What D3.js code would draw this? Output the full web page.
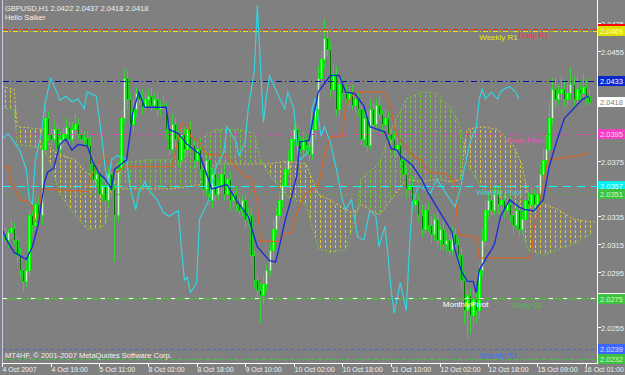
<!DOCTYPE html>
<html>
<head>
<meta charset="utf-8">
<script src="https://cdn.jsdelivr.net/npm/d3@7"></script>
<style>
body { margin: 0; background: #808080; }
svg { display: block; font-family: "Liberation Sans", Arial, sans-serif; }
</style>
</head>
<body>
<svg id="chart" width="625" height="375"></svg>
<script>
// GBPUSD H1, all price series below are in pips above 2.0200
const base = 2.02;
const firstOpen = 125;

const closes = [
  122,118,124,127,118,107,96,88,96,136,
  129,144,136,184,206,195,191,198,184,191,
  195,200,191,198,202,195,191,192,187,173,
  162,166,151,158,147,166,155,136,169,206,
  235,220,202,213,224,220,214,220,222,216,
  220,213,216,214,198,184,202,191,176,195,
  184,198,187,176,184,169,155,176,147,166,
  151,158,166,151,162,147,151,144,140,147,
  133,136,107,89,82,78,86,96,111,126,
  136,147,158,169,176,191,198,187,184,191,
  187,180,198,213,235,249,264,256,227,238,
  213,231,224,220,224,216,220,213,191,206,
  187,213,202,216,209,202,206,195,191,184,
  187,176,166,155,158,144,147,136,126,140,
  129,122,133,118,126,115,118,111,122,115,
  107,89,67,78,64,75,67,96,118,140,
  147,140,151,144,147,140,144,136,129,140,
  126,133,147,144,151,144,151,166,176,184,
  206,227,220,224,227,220,224,231,220,227,
  224,229,222,218
];
const hiWick = [
  3,5,2,6,4,3,5,2,7,4, 3,6,5,4,9,5,3,6,4,5, 4,6,3,5,7,4,3,5,4,6,
  5,3,7,4,6,5,8,4,6,5, 7,5,4,6,5,3,7,4,5,6, 4,5,3,6,4,5,7,4,6,5,
  5,4,6,3,5,7,4,6,5,4, 6,4,5,7,3,5,4,6,5,3, 4,6,5,3,4,5,6,4,5,7,
  5,6,4,5,7,6,5,4,6,5, 4,6,8,7,9,6,14,8,5,7, 6,5,4,7,5,6,4,5,7,6,
  5,6,4,5,7,3,6,5,4,6, 5,4,6,5,3,6,4,5,7,4, 5,6,4,5,3,6,5,4,6,5,
  4,5,6,4,5,7,6,5,8,6, 5,4,6,5,7,4,5,6,4,5, 6,5,4,6,5,4,7,6,8,10,
  12,8,9,6,10,7,8,12,6,9, 7,10,6,5
];
const loWick = [
  4,3,6,5,4,6,5,8,4,5, 6,4,5,7,4,6,5,3,6,4, 5,4,6,3,5,4,6,5,4,7,
  4,6,5,4,7,5,6,34,5,4, 5,7,4,5,6,4,5,3,6,5, 4,6,5,3,7,5,4,6,5,4,
  6,5,4,7,5,4,6,5,4,6, 5,4,6,5,4,7,5,6,4,5, 6,5,7,6,5,20,6,5,4,6,
  5,4,6,5,4,6,5,7,4,5, 6,5,4,6,5,4,7,5,6,4, 5,6,4,5,7,4,6,5,4,6,
  5,4,6,5,4,7,5,6,4,5, 6,5,4,7,5,6,4,5,6,4, 5,6,4,5,7,4,6,5,4,6,
  5,7,10,21,14,8,9,6,5,4, 6,5,4,7,5,6,4,5,7,4, 5,4,6,5,4,6,5,4,6,5,
  4,5,6,4,5,6,4,5,6,4, 5,4,6,3
];

// indicator lines as [bar, pips]
const tenkan = [[0,126],[2,116],[4,109],[8,104],[10,113],[12,130],[14,160],[15,167],[17,170],[19,187],[21,191],[23,183],[25,187],[28,186],[30,174],[32,166],[34,162],[36,155],[37,169],[41,176],[43,210],[45,225],[47,214],[50,214],[54,214],[55,198],[58,195],[61,187],[65,180],[69,155],[74,158],[77,147],[81,135],[84,113],[88,103],[90,102],[91,111],[93,131],[95,147],[97,165],[98,189],[101,190],[104,225],[108,237],[111,237],[113,225],[116,224],[119,215],[121,200],[126,196],[128,184],[130,183],[131,179],[135,172],[138,162],[140,153],[143,142],[146,131],[148,124],[149,111],[151,96],[153,88],[155,88],[156,80],[157,96],[159,104],[161,111],[162,115],[164,135],[167,147],[170,142],[172,140],[175,139],[178,147],[180,171],[182,186],[183,193],[185,206],[191,220],[193,222]];
const kijun = [[0,171],[2,171],[3,160],[6,147],[9,146],[10,142],[11,131],[12,131],[13,155],[28,153],[29,162],[30,167],[32,174],[34,180],[36,169],[38,167],[40,171],[56,171],[59,202],[61,202],[62,193],[65,189],[67,180],[74,179],[77,171],[80,164],[82,163],[84,145],[85,117],[91,117],[93,123],[95,123],[97,138],[100,152],[104,157],[106,179],[108,193],[112,193],[113,215],[116,225],[126,225],[128,213],[129,200],[130,193],[135,179],[138,176],[140,167],[146,166],[148,162],[149,160],[150,122],[156,120],[157,105],[174,105],[175,126],[177,147],[179,170],[180,176],[190,179],[193,181]];
const chikou = [[0,191],[2,195],[4,189],[6,182],[8,169],[9,147],[10,144],[11,176],[13,196],[14,215],[16,235],[18,225],[19,219],[21,222],[23,218],[25,220],[27,213],[28,225],[31,222],[32,206],[33,189],[34,169],[35,160],[36,176],[38,179],[41,176],[42,157],[44,140],[45,152],[47,160],[49,152],[51,147],[53,138],[55,135],[57,138],[58,139],[59,113],[60,89],[61,91],[62,80],[64,87],[65,133],[68,147],[70,169],[73,182],[74,200],[77,189],[78,179],[80,189],[81,213],[83,240],[84,288],[86,203],[87,222],[88,237],[91,222],[93,213],[94,225],[96,213],[97,189],[98,176],[101,182],[102,213],[103,220],[105,193],[106,200],[108,189],[110,169],[112,147],[113,140],[115,147],[117,120],[119,118],[121,139],[123,135],[124,113],[126,128],[127,106],[128,82],[129,65],[131,87],[133,67],[134,111],[135,145],[137,157],[139,155],[141,152],[143,162],[146,152],[149,142],[151,157],[152,169],[154,189],[156,200],[157,220],[158,227],[159,220],[161,225],[163,220],[164,225],[165,227],[167,229],[169,225],[170,220]];

// kumo (senkou span A / B)
const kumoBar = [0,4,5,14,16,19,24,28,32,34,36,37, 38,48,56,65,70,78,83,85,86, 87,94,100,104,108,113,115,117, 118,124,128,133,138,143,148,151,152, 153,158,163,168,171,173,178,183,188,195];
const spanA   = [213,213,187,184,173,151,136,126,126,129,158,160, 173,176,176,191,198,198,195,176,173, 168,149,144,112,109,111,125,140, 162,173,198,220,225,224,213,198,185, 173,155,147,140,126,111,107,111,115,124];
const spanB   = [229,227,200,198,184,180,176,166,163,162,160,160, 155,155,155,158,173,173,173,173,173, 173,175,173,151,147,140,138,140, 144,136,147,162,160,162,160,162,185, 198,200,198,187,173,151,144,140,133,131];

const priceTicks = [2.0475,2.0455,2.0435,2.0415,2.0395,2.0375,2.0355,2.0335,2.0315,2.0295,2.0275,2.0255,2.0235];
const timeLabels = ["4 Oct 2007","4 Oct 19:00","5 Oct 11:00","8 Oct 02:00","8 Oct 18:00","9 Oct 10:00","10 Oct 02:00","10 Oct 18:00","11 Oct 10:00","12 Oct 02:00","12 Oct 18:00","15 Oct 09:00","16 Oct 01:00"];
const timeBars = [0,16,32,48,64,80,96,112,128,144,160,176,192];

// pivot levels
const levelNames  = ["Daily R1","Weekly R1","Level 2.0433","Daily Pivot","Weekly Pivot","Daily S1","MonthlyPivot","Daily S2","Weekly S1","Daily S3"];
const levelPrices = [2.0471,2.0469,2.0433,2.0395,2.0357,2.0351,2.0276,2.0275,2.0239,2.0232];
const levelLabelBar = [170,157,null,166,156,null,145,168,157,null];
const lastPrice = 2.0418;
const header = "GBPUSD,H1  2.0422 2.0437 2.0418 2.0418";
const comment = "Hello Saiker";
const copyright = "MT4HF, \u00a9 2001-2007 MetaQuotes Software Corp.";

// text:null means the price box is hidden under a neighbouring one
const levelStyle = {
  "Daily R1":     {line: "#ff2020", dash: "5,2,1,2", box: "#ff0000", text: null,      label: "#ff3030"},
  "Weekly R1":    {line: "#e8e800", dash: "5,2,1,2", box: "#e0e000", text: "#ffffc0", label: "#e8e800"},
  "Level 2.0433": {line: "#0010a8", dash: "6,3,1,3", box: "#0a28c8", text: "#ffffff", label: "#0010a8"},
  "Daily Pivot":  {line: "#d83cb0", dash: "4,3,1,3", box: "#f040c0", text: "#ffd8f4", label: "#ff40c8"},
  "Weekly Pivot": {line: "#00ffff", dash: "8,6",     box: "#00f0f0", text: "#e8ffff", label: "#40d0d0"},
  "Daily S1":     {line: "#58b028", dash: "3,3",     box: "#40c040", text: "#c8ffc8", label: "#58b028"},
  "MonthlyPivot": {line: "#ffffff", dash: "4,10",    box: "#ffffff", text: null,      label: "#ffffff"},
  "Daily S2":     {line: "#48c030", dash: "2,2",     box: "#40c040", text: "#c8ffc8", label: "#50c040"},
  "Weekly S1":    {line: "#3c64ff", dash: "3,3",     box: "#3c64ff", text: "#d8e4ff", label: "#4070ff"},
  "Daily S3":     {line: "#38c838", dash: "4,3",     box: "#40c040", text: "#c8ffc8", label: "#38c838"}
};

const svg = d3.select("#chart");
const px = v => base + v / 10000;
const x = d3.scaleLinear().domain([0, 193]).range([2, 2 + 3.04 * 193]);
const y = d3.scaleLinear().domain([2.0475, 2.0255]).range([23, 327]);
const right = 597, bottom = 363;

svg.append("rect").attr("width", 625).attr("height", 375).attr("fill", "#808080");

const defs = svg.append("defs");
defs.append("clipPath").attr("id", "plotclip")
  .append("rect").attr("x", 3).attr("y", 3).attr("width", right - 3).attr("height", bottom - 3);
function hatch(id, color) {
  const p = defs.append("pattern").attr("id", id)
    .attr("patternUnits", "userSpaceOnUse").attr("width", 5).attr("height", 5);
  p.append("rect").attr("x", 0).attr("y", 0).attr("width", 1).attr("height", 3)
    .attr("fill", color).attr("shape-rendering", "crispEdges");
}
hatch("hatchY", "#dcc83c");
hatch("hatchG", "#70d030");

const g = svg.append("g").attr("clip-path", "url(#plotclip)");

// cloud
const kumo = kumoBar.map((b, k) => ({b, a: spanA[k], s: spanB[k]}));
const area = d3.area().x(d => x(d.b)).y0(d => y(px(d.a))).y1(d => y(px(d.s)));
g.append("path").attr("d", area.defined(d => d.a <= d.s)(kumo)).attr("fill", "url(#hatchY)");
g.append("path").attr("d", area.defined(d => d.a >= d.s)(kumo)).attr("fill", "url(#hatchG)");
g.append("path").attr("d", d3.line().x(d => x(d.b)).y(d => y(px(d.a)))(kumo))
  .attr("fill", "none").attr("stroke", "#70d030").attr("stroke-dasharray", "2,2");
g.append("path").attr("d", d3.line().x(d => x(d.b)).y(d => y(px(d.s)))(kumo))
  .attr("fill", "none").attr("stroke", "#dcc83c").attr("stroke-dasharray", "2,2");

// candles
const bars = closes.map((c, i) => {
  const o = i ? closes[i - 1] : firstOpen;
  return {i, o, c, h: Math.max(o, c) + hiWick[i], l: Math.min(o, c) - loWick[i]};
});
const cg = g.append("g");
cg.selectAll("line.wick").data(bars).enter().append("line")
  .attr("x1", d => Math.round(x(d.i)) + 0.5).attr("x2", d => Math.round(x(d.i)) + 0.5)
  .attr("y1", d => Math.round(y(px(d.h)))).attr("y2", d => Math.round(y(px(d.l))))
  .attr("stroke", "#38d438").attr("stroke-width", 1);
cg.selectAll("rect.body").data(bars).enter().append("rect")
  .attr("x", d => Math.round(x(d.i)) - 0.5)
  .attr("y", d => Math.round(y(px(Math.max(d.o, d.c)))) + 0.5)
  .attr("width", 2)
  .attr("height", d => Math.max(1, Math.round(y(px(Math.min(d.o, d.c)))) - Math.round(y(px(Math.max(d.o, d.c))))))
  .attr("fill", d => d.c >= d.o ? "#c8ffc8" : "#007800")
  .attr("stroke", d => d.c >= d.o ? "#00ff00" : "#20d020");

// level lines
levelNames.forEach((n, k) => {
  const st = levelStyle[n];
  const yy = Math.round(y(levelPrices[k])) + 0.5;
  if (n === "MonthlyPivot") {
    g.append("line").attr("x1", 3).attr("x2", right).attr("y1", yy).attr("y2", yy)
      .attr("stroke", "#48c030").attr("stroke-dasharray", "6,2");
  }
  g.append("line").attr("x1", 3).attr("x2", right).attr("y1", yy).attr("y2", yy)
    .attr("stroke", st.line).attr("stroke-dasharray", st.dash);
});

// ichimoku lines
const line = d3.line().x(d => x(d[0])).y(d => y(px(d[1])));
g.append("path").attr("d", line(kijun)).attr("fill", "none").attr("stroke", "#d2642a").attr("stroke-width", 1.3);
g.append("path").attr("d", line(chikou)).attr("fill", "none").attr("stroke", "#30d8e4").attr("stroke-width", 1.1);
g.append("path").attr("d", line(tenkan)).attr("fill", "none").attr("stroke", "#1c2fd0").attr("stroke-width", 1.4);

// level labels
levelNames.forEach((n, k) => {
  if (levelLabelBar[k] === null) return;
  g.append("text").attr("x", x(levelLabelBar[k])).attr("y", y(levelPrices[k]) + 9)
    .attr("font-size", 8).attr("fill", levelStyle[n].label).text(n);
});

// texts
svg.append("text").attr("x", 5).attr("y", 11).attr("font-size", 7.5).attr("fill", "#f0f0f0").text(header);
svg.append("text").attr("x", 5).attr("y", 20).attr("font-size", 7.5).attr("fill", "#f0f0f0").text(comment);
svg.append("text").attr("x", 5).attr("y", 358).attr("font-size", 7.5).attr("fill", "#f0f0f0").text(copyright);

// frame
svg.append("line").attr("x1", 2.5).attr("x2", 2.5).attr("y1", 0).attr("y2", bottom).attr("stroke", "#c8c8e8");
svg.append("line").attr("x1", right + 0.5).attr("x2", right + 0.5).attr("y1", 0).attr("y2", bottom + 0.5).attr("stroke", "#ffffff");
svg.append("line").attr("x1", 2).attr("x2", right + 1).attr("y1", bottom + 0.5).attr("y2", bottom + 0.5).attr("stroke", "#ffffff");

// price axis: a tick label is hidden when a labelled price box sits on it
const boxes = levelNames.map((n, k) => ({p: levelPrices[k], st: levelStyle[n]}))
  .concat([{p: lastPrice, st: {box: "#ffffff", text: "#808080"}}]);
const pa = svg.append("g");
priceTicks.forEach(p => {
  const yy = Math.round(y(p)) + 0.5;
  pa.append("line").attr("x1", right).attr("x2", right + 4).attr("y1", yy).attr("y2", yy).attr("stroke", "#ffffff");
  const covered = boxes.some(b => b.st.text && Math.abs(y(b.p) - y(p)) < 8);
  if (!covered) {
    pa.append("text").attr("x", 601).attr("y", yy + 3).attr("font-size", 7.5).attr("fill", "#f0f0f0").text(p.toFixed(4));
  }
});
boxes.forEach(b => {
  const yy = Math.round(y(b.p));
  pa.append("rect").attr("x", 598).attr("y", yy - 5).attr("width", 27).attr("height", 10).attr("fill", b.st.box);
  if (b.st.text) {
    pa.append("text").attr("x", 600).attr("y", yy + 3).attr("font-size", 7.5).attr("fill", b.st.text).text(b.p.toFixed(4));
  }
});

// time axis
const ta = svg.append("g");
timeBars.forEach((b, k) => {
  const xx = Math.round(x(b)) + 0.5;
  ta.append("line").attr("x1", xx).attr("x2", xx).attr("y1", bottom).attr("y2", bottom + 4).attr("stroke", "#ffffff");
  const t = ta.append("text").attr("x", xx).attr("y", 372).attr("font-size", 7).attr("fill", "#f0f0f0").text(timeLabels[k]);
  const w = t.node().getComputedTextLength();
  if (xx + w > 624) t.attr("x", 624 - w);
});
</script>
</body>
</html>
